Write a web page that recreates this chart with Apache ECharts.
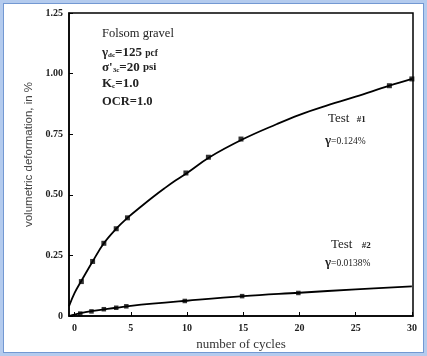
<!DOCTYPE html>
<html>
<head>
<meta charset="utf-8">
<script src="https://cdn.jsdelivr.net/npm/echarts@6/dist/echarts.min.js"></script>
<style>
html,body{margin:0;padding:0;background:#fff;}
#wrap{position:relative;width:427px;height:356px;overflow:hidden;}
#frame1{position:absolute;left:0;top:0;width:427px;height:356px;box-sizing:border-box;border:3px solid #b4cbee;}
#frame2{position:absolute;left:3px;top:3px;width:421px;height:350px;box-sizing:border-box;border:1px solid #7398d2;}
#chart{position:absolute;left:0;top:0;width:427px;height:356px;}
</style>
</head>
<body>
<div id="wrap">
<div id="frame1"></div>
<div id="frame2"></div>
<div id="chart"></div>
</div>
<script>
// Test #1 measured points
const test1X = [0.6, 1.6, 2.6, 3.7, 4.7, 9.9, 11.9, 14.8, 28, 30];
const test1Y = [0.142, 0.225, 0.300, 0.360, 0.405, 0.590, 0.655, 0.730, 0.950, 0.978];
// Test #1 fitted curve
const curve1X = [-0.5, 0, 0.6, 1.6, 2.6, 3.7, 4.7, 6, 7, 8, 9, 10, 12, 15, 18, 20, 22, 25, 28, 30];
const curve1Y = [0.040, 0.095, 0.145, 0.225, 0.300, 0.360, 0.405, 0.455, 0.492, 0.527, 0.560, 0.590, 0.655, 0.730, 0.792, 0.830, 0.862, 0.905, 0.950, 0.978];
// Test #2 measured points
const test2X = [0.5, 1.5, 2.6, 3.7, 4.6, 9.8, 14.9, 19.9];
const test2Y = [0.010, 0.019, 0.028, 0.034, 0.040, 0.062, 0.082, 0.095];
// Test #2 fitted curve
const curve2X = [-0.5, 0, 1.5, 3.7, 5, 10, 15, 20, 25, 30];
const curve2Y = [0.000, 0.006, 0.020, 0.034, 0.042, 0.063, 0.082, 0.096, 0.110, 0.122];
// axis ticks
const xTicks = [0, 5, 10, 15, 20, 25, 30];
const yTicks = [0, 0.25, 0.5, 0.75, 1.0, 1.25];
const yTickLabels = ['0', '0.25', '0.50', '0.75', '1.00', '1.25'];

const zip = (xs, ys) => xs.map((x, i) => [x, ys[i]]);
const serif = '"Liberation Serif", "DejaVu Serif", serif';
const ink = '#222';

const chart = echarts.init(document.getElementById('chart'), null, {renderer: 'canvas'});
chart.setOption({
  animation: false,
  backgroundColor: 'transparent',
  grid: {left: 69, right: 14, top: 13, bottom: 39, show: true, borderColor: '#000', borderWidth: 1.5, backgroundColor: 'transparent'},
  xAxis: {
    type: 'value', min: -0.5, max: 30.1,
    name: 'number of cycles', nameLocation: 'middle', nameGap: 22,
    nameTextStyle: {fontFamily: serif, fontSize: 13, color: '#333'},
    axisLine: {show: true, onZero: false, lineStyle: {color: '#000', width: 1.5}},
    axisTick: {show: true, inside: true, length: 4, customValues: xTicks, lineStyle: {color: '#000'}},
    axisLabel: {customValues: xTicks, fontFamily: serif, fontWeight: 'bold', fontSize: 10, color: ink, margin: 7},
    splitLine: {show: false}
  },
  yAxis: {
    type: 'value', min: 0, max: 1.25, interval: 0.25,
    name: 'volumetric deformation, in %', nameLocation: 'middle', nameGap: 25,
    nameTextStyle: {fontFamily: '"Liberation Sans", "Open Sans", sans-serif', fontSize: 11.5, color: '#444', padding: [0, 0, 0, 20]},
    axisLine: {show: true, onZero: false, lineStyle: {color: '#000', width: 1.5}},
    axisTick: {show: true, inside: true, length: 4, lineStyle: {color: '#000'}},
    axisLabel: {fontFamily: serif, fontWeight: 'bold', fontSize: 10, color: ink, margin: 6,
      formatter: v => { const i = yTicks.findIndex(t => Math.abs(t - v) < 1e-6); return i >= 0 ? yTickLabels[i] : ''; }},
    splitLine: {show: false}
  },
  series: [
    {type: 'line', data: zip(curve1X, curve1Y), smooth: 0.4, showSymbol: false, lineStyle: {color: '#000', width: 1.8}, z: 2},
    {type: 'line', data: zip(curve2X, curve2Y), smooth: 0.4, showSymbol: false, lineStyle: {color: '#000', width: 1.8}, z: 2},
    {type: 'scatter', data: zip(test1X, test1Y), symbol: 'rect', symbolSize: 5, itemStyle: {color: '#000'}, z: 3},
    {type: 'scatter', data: zip(test2X, test2Y), symbol: 'rect', symbolSize: 4.5, itemStyle: {color: '#000'}, z: 3}
  ],
  graphic: [
    {type: 'text', left: 102, top: 27, style: {text: 'Folsom gravel', font: '12.5px ' + serif, fill: ink}},
    {type: 'text', left: 102, top: 46, style: {
      text: '{a|γ}{s|dc}{a|=125 }{u|pcf}',
      rich: {a: {font: 'bold 13px ' + serif, fill: ink}, s: {font: 'bold 7px ' + serif, fill: ink, padding: [5, 0, 0, 0]}, u: {font: 'bold 9.5px ' + serif, fill: ink, padding: [2, 0, 0, 0]}}}},
    {type: 'text', left: 102, top: 61, style: {
      text: "{a|σ'}{s|3c}{a|=20 }{u|psi}",
      rich: {a: {font: 'bold 13px ' + serif, fill: ink}, s: {font: 'bold 7px ' + serif, fill: ink, padding: [5, 0, 0, 0]}, u: {font: 'bold 11px ' + serif, fill: ink}}}},
    {type: 'text', left: 102, top: 77, style: {
      text: '{a|K}{s|c}{a|=1.0}',
      rich: {a: {font: 'bold 13px ' + serif, fill: ink}, s: {font: 'bold 7px ' + serif, fill: ink, padding: [5, 0, 0, 0]}}}},
    {type: 'text', left: 102, top: 95, style: {text: 'OCR=1.0', font: 'bold 12.5px ' + serif, fill: ink}},
    {type: 'text', left: 328, top: 112, style: {
      text: '{a|Test }{b|#1}',
      rich: {a: {font: '13px ' + serif, fill: ink}, b: {font: 'bold 9px ' + serif, fill: ink, padding: [2, 0, 0, 4]}}}},
    {type: 'text', left: 325, top: 134, style: {
      text: '{g|γ}{b|=0.124%}',
      rich: {g: {font: 'bold 13px ' + serif, fill: ink}, b: {font: '9.5px ' + serif, fill: ink, padding: [2, 0, 0, 0]}}}},
    {type: 'text', left: 331, top: 238, style: {
      text: '{a|Test }{b|#2}',
      rich: {a: {font: '13px ' + serif, fill: ink}, b: {font: 'bold 9px ' + serif, fill: ink, padding: [2, 0, 0, 6]}}}},
    {type: 'text', left: 325, top: 256, style: {
      text: '{g|γ}{b|=0.0138%}',
      rich: {g: {font: 'bold 13px ' + serif, fill: ink}, b: {font: '9.5px ' + serif, fill: ink, padding: [2, 0, 0, 0]}}}}
  ]
});
</script>
</body>
</html>
